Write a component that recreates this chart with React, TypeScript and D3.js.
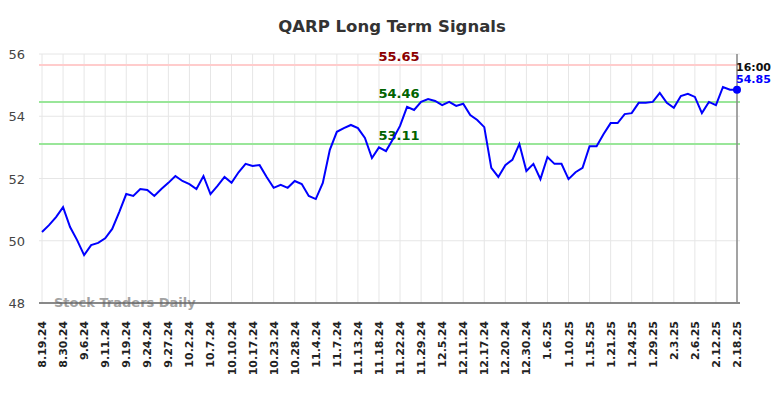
import React, { useEffect, useRef } from 'react';
import * as d3 from 'd3';

const tickLabels = ['8.19.24', '8.30.24', '9.6.24', '9.11.24', '9.19.24', '9.24.24', '9.27.24', '10.2.24', '10.7.24', '10.10.24', '10.17.24', '10.23.24', '10.28.24', '11.4.24', '11.7.24', '11.13.24', '11.18.24', '11.22.24', '11.29.24', '12.5.24', '12.11.24', '12.17.24', '12.20.24', '12.30.24', '1.6.25', '1.10.25', '1.15.25', '1.21.25', '1.24.25', '1.29.25', '2.3.25', '2.6.25', '2.12.25', '2.18.25'];

// one value per trading point, a tick every 3rd point
const prices = [
  50.28, 50.5, 50.76, 51.08, 50.44, 50.02, 49.54, 49.86, 49.93, 50.08,
  50.38, 50.92, 51.5, 51.44, 51.66, 51.63, 51.44, 51.66, 51.86, 52.08,
  51.92, 51.82, 51.66, 52.08, 51.5, 51.76, 52.05, 51.86, 52.2, 52.47,
  52.4, 52.43, 52.05, 51.7, 51.8, 51.7, 51.92, 51.82, 51.44, 51.34,
  51.86, 52.92, 53.5, 53.62, 53.72, 53.62, 53.3, 52.66, 53.0, 52.88,
  53.27, 53.69, 54.3, 54.2, 54.46, 54.55, 54.49, 54.36, 54.46, 54.33,
  54.4, 54.04, 53.88, 53.65, 52.34, 52.05, 52.43, 52.6, 53.11, 52.24,
  52.47, 51.98, 52.69, 52.47, 52.47, 51.98, 52.2, 52.34, 53.04, 53.04,
  53.43, 53.78, 53.78, 54.07, 54.1, 54.43, 54.43, 54.46, 54.75, 54.43,
  54.27, 54.65, 54.72, 54.62, 54.1, 54.46, 54.36, 54.94, 54.85, 54.85,
];

const yTicks = [48, 50, 52, 54, 56];
const signalValues = [55.65, 54.46, 53.11];
const signalLabels = ['55.65', '54.46', '53.11'];
const lastTime = '16:00';

const App = () => {
  const ref = useRef(null);
  const width = 784;
  const height = 398;

  useEffect(() => {
    const margin = { top: 54, right: 47, bottom: 95, left: 42 };
    const svg = d3.select(ref.current);
    svg.selectAll('*').remove();

    const x = d3.scaleLinear()
      .domain([0, prices.length - 1])
      .range([margin.left, width - margin.right]);
    const y = d3.scaleLinear()
      .domain([48, 56])
      .range([height - margin.bottom, margin.top]);

    // title
    svg.append('text')
      .attr('x', 392)
      .attr('y', 32)
      .attr('text-anchor', 'middle')
      .style('font-family', 'DejaVu Sans, sans-serif')
      .style('font-size', '16.5px')
      .style('font-weight', 'bold')
      .style('fill', '#333')
      .text('QARP Long Term Signals');

    // horizontal grid + y labels
    svg.append('g').selectAll('line')
      .data(yTicks)
      .enter()
      .append('line')
      .attr('x1', margin.left - 3)
      .attr('x2', width - margin.right + 3)
      .attr('y1', d => y(d))
      .attr('y2', d => y(d))
      .attr('stroke', '#e6e6e6')
      .attr('stroke-width', 1);

    svg.append('g').selectAll('text')
      .data(yTicks)
      .enter()
      .append('text')
      .attr('x', 25)
      .attr('y', d => y(d) + 5)
      .attr('text-anchor', 'end')
      .style('font-family', 'DejaVu Sans, sans-serif')
      .style('font-size', '13px')
      .style('fill', '#444')
      .text(d => d);

    // vertical grid
    svg.append('g').selectAll('line')
      .data(tickLabels)
      .enter()
      .append('line')
      .attr('x1', (d, i) => x(i * 3))
      .attr('x2', (d, i) => x(i * 3))
      .attr('y1', margin.top)
      .attr('y2', height - margin.bottom)
      .attr('stroke', '#e6e6e6')
      .attr('stroke-width', 1);

    // x labels
    svg.append('g').selectAll('text')
      .data(tickLabels)
      .enter()
      .append('text')
      .attr('transform', (d, i) => 'translate(' + (x(i * 3) + 4) + ',' + (height - margin.bottom + 18) + ') rotate(-90)')
      .attr('text-anchor', 'end')
      .style('font-family', 'DejaVu Sans, sans-serif')
      .style('font-size', '11px')
      .style('font-weight', 'bold')
      .style('fill', '#222')
      .text(d => d);

    // signal lines
    svg.append('g').selectAll('line')
      .data(signalValues)
      .enter()
      .append('line')
      .attr('x1', margin.left - 3)
      .attr('x2', width - margin.right + 3)
      .attr('y1', d => y(d))
      .attr('y2', d => y(d))
      .attr('stroke', (d, i) => i === 0 ? '#ffcccc' : '#99e699')
      .attr('stroke-width', 2);

    svg.append('g').selectAll('text')
      .data(signalValues)
      .enter()
      .append('text')
      .attr('x', 399)
      .attr('y', d => y(d) - 4)
      .attr('text-anchor', 'middle')
      .style('font-family', 'DejaVu Sans, sans-serif')
      .style('font-size', '13px')
      .style('font-weight', 'bold')
      .style('fill', (d, i) => i === 0 ? '#8b0000' : '#006400')
      .text((d, i) => signalLabels[i]);

    // watermark
    svg.append('text')
      .attr('x', 54)
      .attr('y', 307)
      .style('font-family', 'DejaVu Sans, sans-serif')
      .style('font-size', '13px')
      .style('font-weight', 'bold')
      .style('fill', '#999')
      .style('opacity', 0.9)
      .text('Stock Traders Daily');

    // x axis line
    svg.append('line')
      .attr('x1', margin.left - 3)
      .attr('x2', width - margin.right + 3)
      .attr('y1', height - margin.bottom)
      .attr('y2', height - margin.bottom)
      .attr('stroke', '#666')
      .attr('stroke-width', 1.5);

    // right edge marker
    const lastX = x(prices.length - 1);
    svg.append('line')
      .attr('x1', lastX)
      .attr('x2', lastX)
      .attr('y1', margin.top)
      .attr('y2', height - margin.bottom)
      .attr('stroke', '#888')
      .attr('stroke-width', 1.5);

    // price line
    const line = d3.line()
      .x((d, i) => x(i))
      .y(d => y(d));
    svg.append('path')
      .datum(prices)
      .attr('d', line)
      .attr('fill', 'none')
      .attr('stroke', 'blue')
      .attr('stroke-width', 2);

    const last = prices[prices.length - 1];
    svg.append('circle')
      .attr('cx', lastX)
      .attr('cy', y(last))
      .attr('r', 4)
      .attr('fill', 'blue');

    svg.append('text')
      .attr('x', lastX - 1)
      .attr('y', 71)
      .style('font-family', 'DejaVu Sans, sans-serif')
      .style('font-size', '11px')
      .style('font-weight', 'bold')
      .style('fill', '#111')
      .text(lastTime);

    svg.append('text')
      .attr('x', lastX - 1)
      .attr('y', 83)
      .style('font-family', 'DejaVu Sans, sans-serif')
      .style('font-size', '11px')
      .style('font-weight', 'bold')
      .style('fill', 'blue')
      .text(last.toFixed(2));
  });

  return (
    <svg width={width} height={height} ref={ref} style={{ position: 'absolute', left: 0, top: 0 }} />
  );
};

export default App;
